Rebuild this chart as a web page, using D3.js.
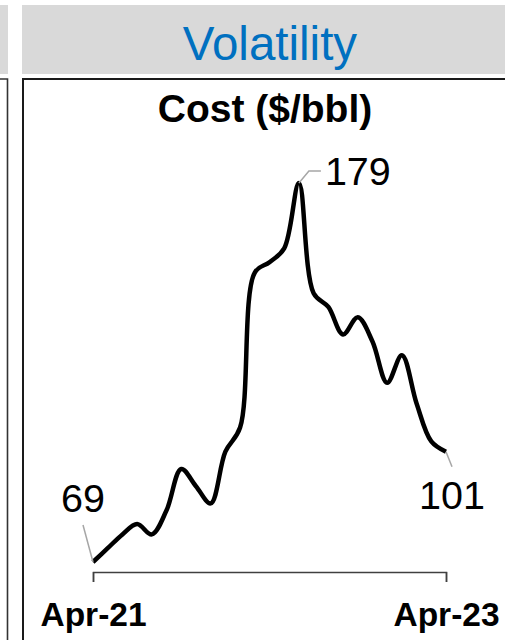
<!DOCTYPE html>
<html>
<head>
<meta charset="utf-8">
<script src="https://cdn.jsdelivr.net/npm/d3@7"></script>
<style>
  html, body { margin: 0; padding: 0; background: #fff; }
  svg { display: block; }
</style>
</head>
<body>
<script>
// Monthly cost, Apr-21 .. Apr-23
const months = ["Apr-21","May-21","Jun-21","Jul-21","Aug-21","Sep-21","Oct-21","Nov-21","Dec-21",
  "Jan-22","Feb-22","Mar-22","Apr-22","May-22","Jun-22","Jul-22","Aug-22","Sep-22","Oct-22",
  "Nov-22","Dec-22","Jan-23","Feb-23","Mar-23","Apr-23"];
const cost = [69, 73, 77, 80, 77, 84, 96, 91, 86, 101, 108, 153, 156, 160, 179,
  147, 143, 135, 140, 133, 121, 129, 115, 104, 101];
const tickLabels = ["Apr-21", "Apr-23"];
const sectionTitle = "Volatility";
const chartTitle = "Cost ($/bbl)";

const W = 505, H = 642;
const font = "Liberation Sans, Arial, sans-serif";
const svg = d3.select("body").append("svg").attr("width", W).attr("height", H);

// Header bands (neighbouring panel on the left, this panel on the right)
svg.append("rect").attr("x", 0).attr("y", 5).attr("width", 8).attr("height", 69).attr("fill", "#d9d9d9");
svg.append("rect").attr("x", 22).attr("y", 5).attr("width", W - 22).attr("height", 69).attr("fill", "#d9d9d9");
svg.append("text").attr("x", 270).attr("y", 60).attr("text-anchor", "middle")
  .attr("font-family", font).attr("font-size", 47.5)
  .attr("fill", "#0070c0").text(sectionTitle);

// Panel frames
svg.append("path").attr("d", "M0,79H7.5V640").attr("fill", "none").attr("stroke", "#333").attr("stroke-width", 1.6);
svg.append("path").attr("d", "M23,640V79H" + W).attr("fill", "none").attr("stroke", "#1a1a1a").attr("stroke-width", 2);

svg.append("text").attr("x", 265).attr("y", 122).attr("text-anchor", "middle")
  .attr("font-family", font).attr("font-size", 39)
  .attr("font-weight", "bold").attr("fill", "#000").text(chartTitle);

// Scales
const x = d3.scalePoint().domain(months).range([93, 446]);
const y = d3.scaleLinear().domain([60, 190]).range([593, 145]);

// Bottom axis with end ticks only
const axis = d3.axisBottom(x).tickValues(tickLabels).tickSize(10).tickPadding(20);
const gx = svg.append("g").attr("transform", "translate(0,572)").call(axis);
gx.select(".domain").attr("stroke", "#404040").attr("stroke-width", 1.5);
gx.selectAll(".tick line").attr("stroke", "#404040").attr("stroke-width", 1.5);
gx.selectAll(".tick text").attr("font-family", font)
  .attr("font-size", 33.5).attr("font-weight", "bold").attr("fill", "#000");

// Smoothed cost line
const line = d3.line()
  .x((d, i) => x(months[i]))
  .y(d => y(d))
  .curve(d3.curveCatmullRom.alpha(0.5));
svg.append("path").datum(cost).attr("d", line)
  .attr("fill", "none").attr("stroke", "#000").attr("stroke-width", 4.5)
  .attr("stroke-linejoin", "round");

// Value callouts: first, peak, last
const first = 0, last = cost.length - 1;
const peak = cost.indexOf(d3.max(cost));
const lead = svg.append("g").attr("fill", "none").attr("stroke", "#a6a6a6").attr("stroke-width", 1.5);

const p0 = [x(months[first]), y(cost[first])];
lead.append("path").attr("d", `M${p0[0]},${p0[1]}L${p0[0] - 10},${p0[1] - 37}`);
svg.append("text").attr("x", p0[0] - 10).attr("y", p0[1] - 50).attr("text-anchor", "middle")
  .attr("font-family", font).attr("font-size", 39.5).attr("fill", "#000").text(cost[first]);

const pk = [x(months[peak]), y(cost[peak])];
lead.append("path").attr("d", `M${pk[0]},${pk[1]}L${pk[0] + 10},${pk[1] - 12}H${pk[0] + 22}`);
svg.append("text").attr("x", pk[0] + 26).attr("y", pk[1] + 2)
  .attr("font-family", font).attr("font-size", 39.5).attr("fill", "#000").text(cost[peak]);

const pl = [x(months[last]), y(cost[last])];
lead.append("path").attr("d", `M${pl[0]},${pl[1]}L${pl[0] + 6},${pl[1] + 15}`);
svg.append("text").attr("x", pl[0] + 6).attr("y", pl[1] + 57).attr("text-anchor", "middle")
  .attr("font-family", font).attr("font-size", 39.5).attr("fill", "#000").text(cost[last]);
</script>
</body>
</html>
